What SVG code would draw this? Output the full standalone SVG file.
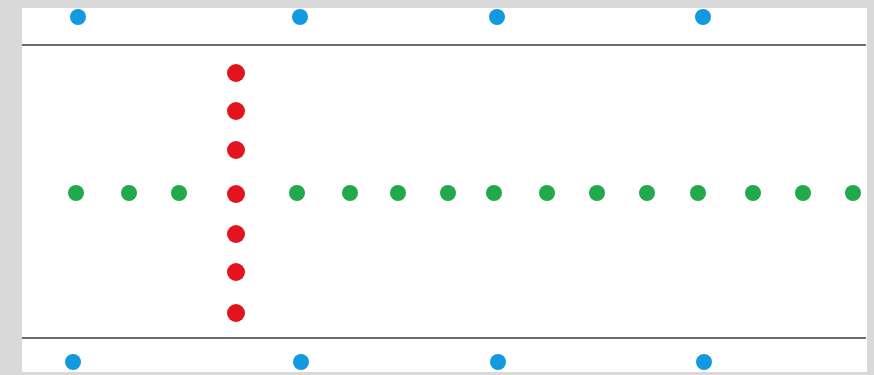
<svg xmlns="http://www.w3.org/2000/svg" width="874" height="375" viewBox="0 0 874 375">
<style>
.blue{fill:#1299e0}
.green{fill:#22a94b}
.red{fill:#e3141e}
.rule{stroke:#6b6b6b;stroke-width:2;fill:none}
</style>
<rect x="0" y="0" width="874" height="375" fill="#d9d9d9"/>
<rect x="22" y="8" width="845" height="364" fill="#ffffff"/>
<g id="lines">
<line class="rule" x1="22" y1="45" x2="866" y2="45"/>
<line class="rule" x1="22" y1="338" x2="866" y2="338"/>
</g>
<g id="blue-top">
<g id="bt1"><circle class="blue" cx="78" cy="17" r="8"/></g>
<g id="bt2"><circle class="blue" cx="300" cy="17" r="8"/></g>
<g id="bt3"><circle class="blue" cx="497" cy="17" r="8"/></g>
<g id="bt4"><circle class="blue" cx="703" cy="17" r="8"/></g>
</g>
<g id="blue-bottom">
<g id="bb1"><circle class="blue" cx="73" cy="362" r="8"/></g>
<g id="bb2"><circle class="blue" cx="301" cy="362" r="8"/></g>
<g id="bb3"><circle class="blue" cx="498" cy="362" r="8"/></g>
<g id="bb4"><circle class="blue" cx="704" cy="362" r="8"/></g>
</g>
<g id="green-row">
<g id="g1"><circle class="green" cx="76" cy="193" r="8"/></g>
<g id="g2"><circle class="green" cx="129" cy="193" r="8"/></g>
<g id="g3"><circle class="green" cx="179" cy="193" r="8"/></g>
<g id="g4"><circle class="green" cx="297" cy="193" r="8"/></g>
<g id="g5"><circle class="green" cx="350" cy="193" r="8"/></g>
<g id="g6"><circle class="green" cx="398" cy="193" r="8"/></g>
<g id="g7"><circle class="green" cx="448" cy="193" r="8"/></g>
<g id="g8"><circle class="green" cx="494" cy="193" r="8"/></g>
<g id="g9"><circle class="green" cx="547" cy="193" r="8"/></g>
<g id="g10"><circle class="green" cx="597" cy="193" r="8"/></g>
<g id="g11"><circle class="green" cx="647" cy="193" r="8"/></g>
<g id="g12"><circle class="green" cx="698" cy="193" r="8"/></g>
<g id="g13"><circle class="green" cx="753" cy="193" r="8"/></g>
<g id="g14"><circle class="green" cx="803" cy="193" r="8"/></g>
<g id="g15"><circle class="green" cx="853" cy="193" r="8"/></g>
</g>
<g id="red-column">
<g id="r1"><circle class="red" cx="236" cy="73" r="9"/></g>
<g id="r2"><circle class="red" cx="236" cy="111" r="9"/></g>
<g id="r3"><circle class="red" cx="236" cy="150" r="9"/></g>
<g id="r4"><circle class="red" cx="236" cy="194" r="9"/></g>
<g id="r5"><circle class="red" cx="236" cy="234" r="9"/></g>
<g id="r6"><circle class="red" cx="236" cy="272" r="9"/></g>
<g id="r7"><circle class="red" cx="236" cy="313" r="9"/></g>
</g>
</svg>
